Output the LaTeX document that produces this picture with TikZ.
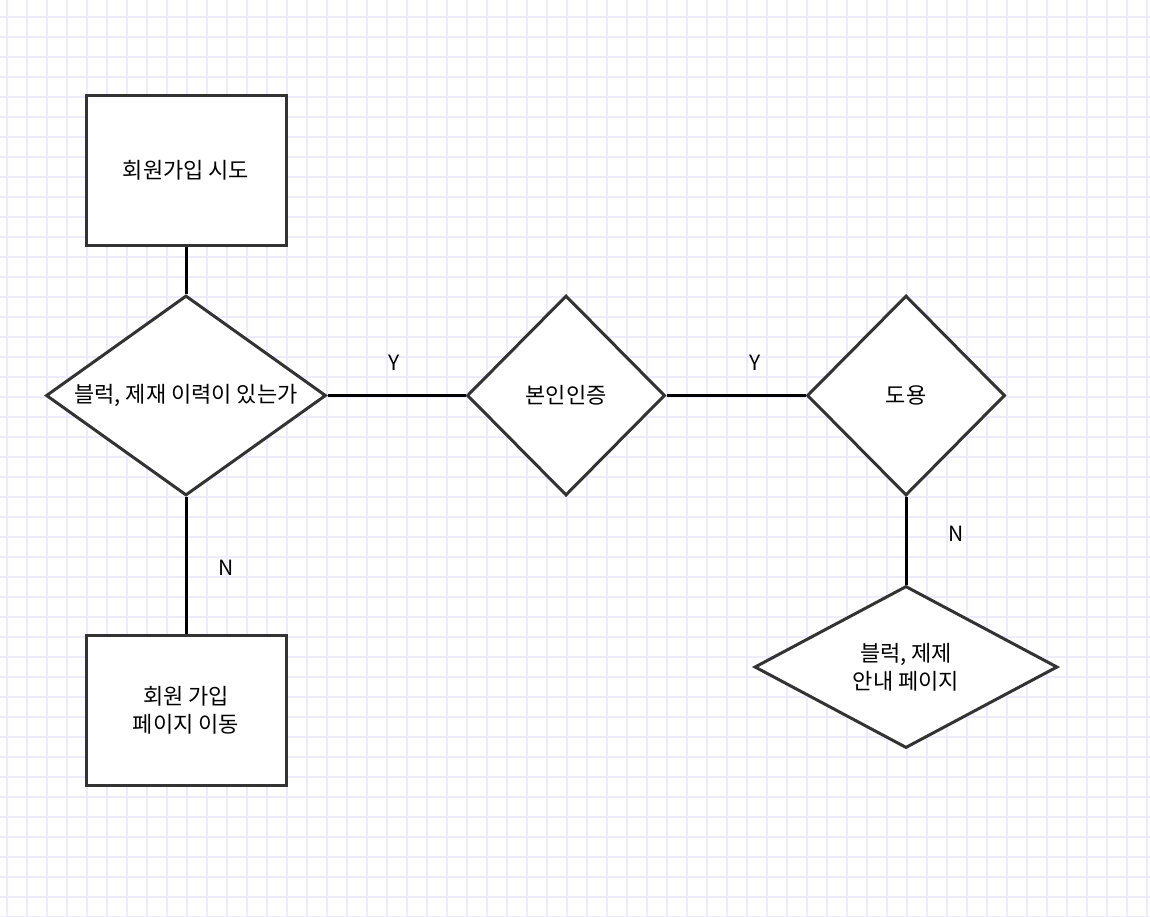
\documentclass[tikz,border=0pt]{standalone}
\usepackage{fontspec}
\setmainfont{Noto Sans CJK KR}
\usetikzlibrary{shapes.geometric}
\definecolor{gridc}{RGB}{238,236,252}
\definecolor{shapec}{RGB}{51,51,51}
\tikzset{
  boxnode/.style={draw=shapec, line width=3pt, fill=white, rectangle, inner sep=0pt,
    minimum width=200pt, minimum height=150pt, align=center, font=\fontsize{22}{28}\selectfont},
  decnode/.style={draw=shapec, line width=3pt, fill=white, diamond, inner sep=0pt,
    align=center, font=\fontsize{22}{28}\selectfont},
  conn/.style={draw=black, line width=3pt},
  lbl/.style={font=\fontsize{21}{24}\selectfont, inner sep=0pt}
}
\begin{document}
\begin{tikzpicture}[x=1pt,y=-1pt]
\fill[white] (0,0) rectangle (1150,916);
\useasboundingbox (0,0) rectangle (1150,916);
\foreach \i in {0,...,57} {\draw[gridc, line width=1.2pt] (7+20*\i,0) -- (7+20*\i,916);}
\foreach \j in {0,...,45} {\draw[gridc, line width=1.2pt] (0,17+20*\j) -- (1150,17+20*\j);}

\node[boxnode] (start) at (186,170.5) {회원가입 시도};
\node[decnode, minimum width=280pt, minimum height=200pt, aspect=1.4] (d1) at (186,395.5) {블럭, 제재 이력이 있는가};
\node[decnode, minimum width=198pt, minimum height=200pt, aspect=1] (d2) at (566,395.5) {본인인증};
\node[decnode, minimum width=198pt, minimum height=200pt, aspect=1] (d3) at (906,395.5) {도용};
\node[decnode, minimum width=303pt, minimum height=162pt, aspect=1.87] (d4) at (906,667) {블럭, 제제\\안내 페이지};
\node[boxnode] (join) at (186,710) {회원 가입\\페이지 이동};

\draw[conn] (start.south) -- (d1.north);
\draw[conn] (d1.east) -- (d2.west);
\draw[conn] (d2.east) -- (d3.west);
\draw[conn] (d1.south) -- (join.north);
\draw[conn] (d3.south) -- (d4.north);

\node[lbl] (y1) at (394,363) {Y};
\node[lbl] (y2) at (755,363) {Y};
\node[lbl] (n1) at (226,568) {N};
\node[lbl] (n2) at (956,534) {N};
\end{tikzpicture}
\end{document}
